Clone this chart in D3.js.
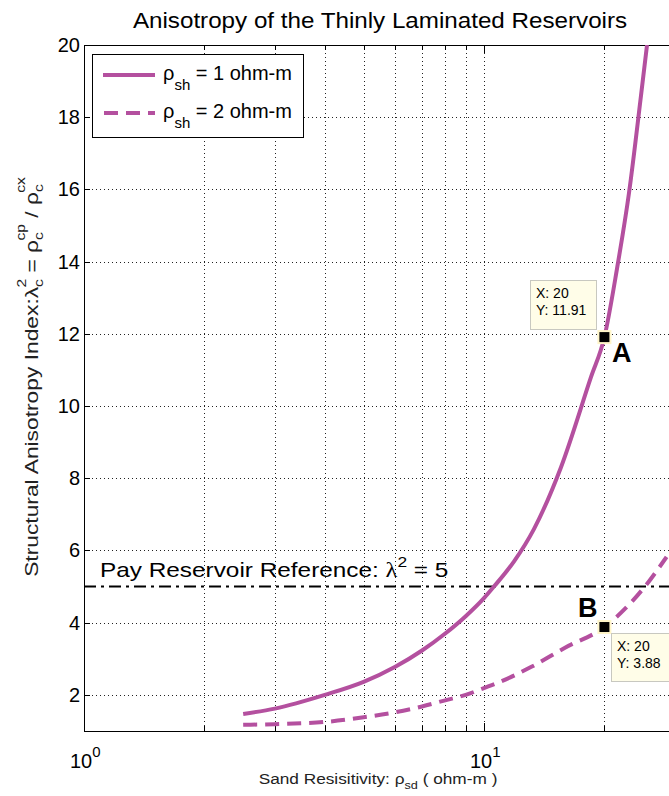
<!DOCTYPE html>
<html><head><meta charset="utf-8">
<script src="https://cdn.jsdelivr.net/npm/d3@7"></script>
<style>body{margin:0;background:#fff}svg{display:block}text{font-family:"Liberation Sans",Arial,sans-serif}</style>
</head><body>
<script>
// ---- data ----
const solidX = [2.5, 3, 4, 5, 6, 7, 8, 9, 10, 10.59, 11.89, 13.34, 15.57, 18.51, 20, 21.5, 23.04, 24.69, 25.56];
const solidY = [1.47, 1.62, 2.0, 2.36, 2.78, 3.23, 3.7, 4.18, 4.68, 5.0, 5.7, 6.6, 8.3, 10.8, 11.91, 13.8, 15.9, 18.6, 20.0];
const dashX = [2.5, 3, 4, 5, 6, 7, 8, 9, 10, 10.8, 13.1, 15.9, 20, 25.2, 28.6];
const dashY = [1.17, 1.19, 1.25, 1.38, 1.52, 1.68, 1.85, 2.0, 2.19, 2.33, 2.77, 3.3, 3.88, 4.99, 5.82];
const yTicks = [2, 4, 6, 8, 10, 12, 14, 16, 18, 20];
const xMajor = [1, 10];
const xMinor = [2, 3, 4, 5, 6, 7, 8, 9, 20, 30];
const payRef = 5;
const tips = [{x: 20, y: 11.91, name: "A"}, {x: 20, y: 3.88, name: "B"}];
const legendLabels = ["1 ohm-m", "2 ohm-m"];

const W = 669, H = 796;
const L = 84, T = 45, B = 731;
const R = L + 400 * Math.log10(30);
const color = "#b4509f";

const svg = d3.select("body").append("svg").attr("width", W).attr("height", H);
const x = d3.scaleLog().domain([1, 30]).range([L, R]);
const y = d3.scaleLinear().domain([1, 20]).range([B, T]);

svg.append("defs").append("clipPath").attr("id", "clip")
  .append("rect").attr("x", L).attr("y", T).attr("width", R - L).attr("height", B - T);

// grid
const g = svg.append("g");
g.selectAll(".gx").data(xMajor.concat(xMinor).filter(d => d > 1 && d < 30)).enter().append("line")
  .attr("x1", d => Math.round(x(d)) + 0.5).attr("x2", d => Math.round(x(d)) + 0.5).attr("y1", T).attr("y2", B)
  .attr("stroke", "#222").attr("stroke-width", 1).attr("stroke-dasharray", "1,3");
g.selectAll(".gy").data(yTicks.filter(d => d < 20)).enter().append("line")
  .attr("x1", L).attr("x2", R).attr("y1", d => Math.round(y(d)) + 0.5).attr("y2", d => Math.round(y(d)) + 0.5)
  .attr("stroke", "#222").attr("stroke-width", 1).attr("stroke-dasharray", "1,3");

// axes box
svg.append("rect").attr("x", L + 0.5).attr("y", T + 0.5).attr("width", R - L).attr("height", B - T)
  .attr("fill", "none").attr("stroke", "#000").attr("stroke-width", 1);

// ticks
const tk = svg.append("g").attr("stroke", "#000").attr("stroke-width", 1);
yTicks.forEach(v => {
  const yy = Math.round(y(v)) + 0.5;
  tk.append("line").attr("x1", L).attr("x2", L + 6).attr("y1", yy).attr("y2", yy);
});
xMajor.concat(xMinor).forEach(v => {
  const big = xMajor.includes(v);
  const len = big ? 8 : 5;
  const xx = Math.round(x(v)) + 0.5;
  tk.append("line").attr("x1", xx).attr("x2", xx).attr("y1", B).attr("y2", B - len);
  tk.append("line").attr("x1", xx).attr("x2", xx).attr("y1", T).attr("y2", T + len);
});

// y tick labels
svg.selectAll(".yl").data(yTicks).enter().append("text")
  .attr("x", L - 4).attr("y", d => y(d) + 7).attr("text-anchor", "end")
  .attr("font-size", 20).attr("fill", "#000").text(d => d);

// x tick labels 10^n
xMajor.forEach(v => {
  const t = svg.append("text").attr("x", x(v) - 14).attr("y", 768).attr("font-size", 20).attr("fill", "#000");
  t.append("tspan").text("10");
  t.append("tspan").attr("font-size", 15).attr("dy", -11).text(Math.round(Math.log10(v)));
});

// helper: text horizontally stretched (reference font renders wider)
function stretched(tx, ty, sx, rot) {
  return svg.append("g").attr("transform", `translate(${tx},${ty})` + (rot ? ` rotate(${rot})` : "") + ` scale(${sx},1)`)
    .append("text").attr("x", 0).attr("y", 0);
}

// pay reservoir reference line
svg.append("line").attr("x1", L).attr("x2", R).attr("y1", y(payRef)).attr("y2", y(payRef))
  .attr("stroke", "#000").attr("stroke-width", 2).attr("stroke-dasharray", "12,5,3,5");
{
  const t = stretched(100, 577, 1.16).attr("font-size", 21).attr("fill", "#000");
  t.append("tspan").text("Pay Reservoir Reference: ");
  t.append("tspan").attr("font-family", "Liberation Serif, Times New Roman, serif").text("λ");
  t.append("tspan").attr("font-size", 15).attr("dy", -10).text("2");
  t.append("tspan").attr("dy", 10).text(" = " + payRef);
}

// curves
const line = d3.line().x(d => x(d[0])).y(d => y(d[1])).curve(d3.curveMonotoneX);
const cg = svg.append("g").attr("clip-path", "url(#clip)");
cg.append("path").attr("d", line(solidX.map((v, i) => [v, solidY[i]])))
  .attr("fill", "none").attr("stroke", color).attr("stroke-width", 4);
cg.append("path").attr("d", line(dashX.map((v, i) => [v, dashY[i]])))
  .attr("fill", "none").attr("stroke", color).attr("stroke-width", 4).attr("stroke-dasharray", "14,8");

// data tips
tips.forEach(tp => {
  svg.append("rect").attr("x", x(tp.x) - 6).attr("y", y(tp.y) - 6).attr("width", 12).attr("height", 12)
    .attr("fill", "#000").attr("stroke", "#fff5c8").attr("stroke-width", 2);
});
function tipBox(bx, by, bw, bh, lines) {
  svg.append("rect").attr("x", bx + 0.5).attr("y", by + 0.5).attr("width", bw).attr("height", bh)
    .attr("fill", "#fffde8").attr("stroke", "#c8c8c0").attr("stroke-width", 1);
  lines.forEach((s, i) => {
    svg.append("text").attr("x", bx + 6).attr("y", by + 18 + i * 17).attr("font-size", 14).attr("fill", "#000").text(s);
  });
}
tipBox(530, 280, 66, 49, ["X: " + tips[0].x, "Y: " + tips[0].y]);
tipBox(611, 633, 60, 48, ["X: " + tips[1].x, "Y: " + tips[1].y]);
svg.append("text").attr("x", 612).attr("y", 362).attr("font-size", 27).attr("font-weight", "bold").text(tips[0].name);
svg.append("text").attr("x", 578).attr("y", 617).attr("font-size", 27).attr("font-weight", "bold").text(tips[1].name);

// legend
svg.append("rect").attr("x", 92.5).attr("y", 54.5).attr("width", 211).attr("height", 83)
  .attr("fill", "#fff").attr("stroke", "#000").attr("stroke-width", 1);
[0, 1].forEach(i => {
  const ly = 75 + i * 38;
  svg.append("line").attr("x1", 103).attr("x2", 155).attr("y1", ly).attr("y2", ly)
    .attr("stroke", color).attr("stroke-width", 4).attr("stroke-dasharray", i ? "14,8" : null)
    .attr("stroke-dashoffset", i ? -1 : 0);
  const t = svg.append("text").attr("x", 163).attr("y", ly + 5).attr("font-size", 20).attr("fill", "#000");
  t.append("tspan").text("ρ");
  t.append("tspan").attr("font-size", 15).attr("dy", 10).text("sh");
  t.append("tspan").attr("dy", -10).text(" = " + legendLabels[i]);
});

// title
stretched(380, 28, 1.1).attr("text-anchor", "middle").attr("font-size", 22)
  .attr("fill", "#000").text("Anisotropy of the Thinly Laminated Reservoirs");

// x label
{
  const t = stretched(378, 784, 1.15).attr("text-anchor", "middle").attr("font-size", 15).attr("fill", "#222");
  t.append("tspan").text("Sand Resisitivity: ρ");
  t.append("tspan").attr("font-size", 11).attr("dy", 5).text("sd");
  t.append("tspan").attr("dy", -5).text(" ( ohm-m )");
}
// y label
{
  const t = stretched(38, 377, 1.2, -90).attr("text-anchor", "middle").attr("font-size", 19).attr("fill", "#222");
  t.append("tspan").text("Structural Anisotropy Index:λ");
  t.append("tspan").attr("font-size", 13).attr("dy", 5).text("c");
  t.append("tspan").attr("font-size", 13).attr("dx", -7).attr("dy", -17).text("2");
  t.append("tspan").attr("dy", 12).text(" = ρ");
  t.append("tspan").attr("font-size", 13).attr("dy", 5).text("c");
  t.append("tspan").attr("font-size", 13).attr("dx", -7).attr("dy", -18).text("cp");
  t.append("tspan").attr("dy", 13).text(" / ρ");
  t.append("tspan").attr("font-size", 13).attr("dy", 5).text("c");
  t.append("tspan").attr("font-size", 13).attr("dx", -7).attr("dy", -18).text("cx");
}
</script>
</body></html>
